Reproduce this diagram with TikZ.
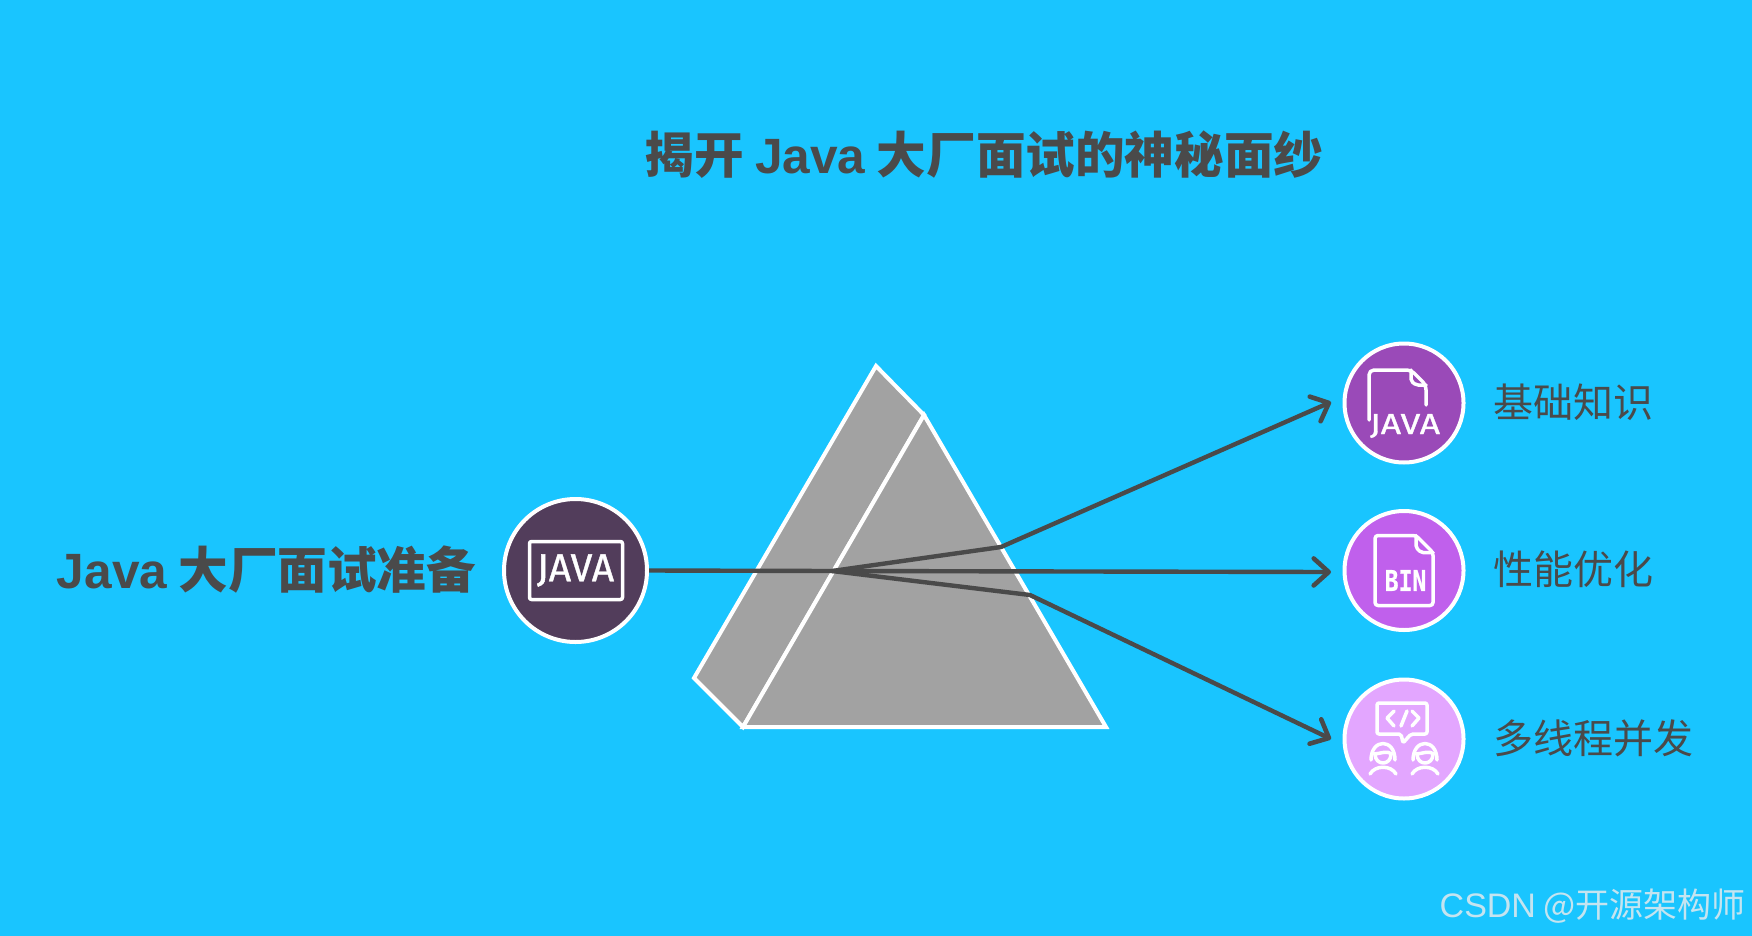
\documentclass[tikz,border=0pt]{standalone}
\usepackage{fontspec}
\setmainfont{Liberation Sans}
\newfontfamily\cjk{Noto Sans CJK SC}
\newfontfamily\icofont[FakeBold=1]{Fira Sans}
\newfontfamily\binfont[FakeBold=0.6]{DejaVu Sans Mono}
\usetikzlibrary{arrows.meta}
\definecolor{bgc}{HTML}{19C5FF}
\definecolor{prismc}{HTML}{A2A2A2}
\definecolor{inkc}{HTML}{4A4A4A}
\definecolor{javac}{HTML}{523D5B}
\definecolor{purpa}{HTML}{9A4AB8}
\definecolor{purpb}{HTML}{C060EC}
\definecolor{purpc}{HTML}{E3A6FF}
\definecolor{markc}{HTML}{C4E4F0}
\tikzset{
  x=1pt,y=-1pt,
  badge/.style={circle,draw=white,line width=4pt,inner sep=0pt,minimum size=#1},
  facet/.style={fill=prismc,draw=white,line width=4pt,line join=miter},
  ray/.style={draw=inkc,line width=4.4pt,line join=round},
  rayhead/.style={ray,-{Straight Barb[length=15pt,width=27pt,line width=4.6pt,round]}},
  ico/.style={draw=white,line width=3.5pt,line cap=round,line join=round,rounded corners=2pt},
  title/.style={text=inkc,font=\fontsize{49.6}{56}\selectfont\bfseries\cjk,inner sep=0pt},
  side/.style={text=inkc,font=\fontsize{40}{46}\selectfont\cjk,inner sep=0pt,anchor=west},
}
\begin{document}
\begin{tikzpicture}
\useasboundingbox[fill=bgc] (0,0) rectangle (1752,936);
% prism
\draw[facet] (876,366) -- (924,415) -- (743,727) -- (694,678) -- cycle;
\draw[facet] (924,415) -- (1106,727) -- (743,727) -- cycle;
% nodes
\node[badge=143pt,fill=javac] (java) at (575.5,570.5) {};
\node[badge=119pt,fill=purpa] (basic) at (1404,403) {};
\node[badge=119pt,fill=purpb] (perf) at (1404,570.5) {};
\node[badge=119pt,fill=purpc] (multi) at (1404,739) {};
% connectors
\coordinate (focus) at (832,571);
\coordinate (bendup) at (1001,547);
\coordinate (benddown) at (1030,595);
\coordinate (tipa) at (1331,402);
\coordinate (tipb) at (1331,572);
\coordinate (tipc) at (1331,739);
\draw[ray] (java.east) -- (focus);
\draw[rayhead] (focus) -- (bendup) -- (tipa);
\draw[rayhead] (focus) -- (tipb);
\draw[rayhead] (focus) -- (benddown) -- (tipc);
% icon: java card
\begin{scope}[shift={(575.5,570.5)}]
\draw[ico] (-46,-29) rectangle (47,29);
\node[text=white,font=\fontsize{39}{40}\selectfont\icofont,inner sep=0pt] (javaword) at (0,0) {JAVA};
\end{scope}
% icon: java file
\begin{scope}[shift={(1404,403)}]
\draw[ico,rounded corners=5pt] (-35,17) -- (-35,-33) -- (7,-33) -- (22,-18) -- (22,2);
\draw[ico] (7,-33) -- (7,-22) -- (12,-18) -- (22,-18);
\node[text=white,font=\fontsize{29}{30}\selectfont\icofont,inner sep=0pt] (fileword) at (1,23) {\scalebox{1.22}[1]{JAVA}};
\end{scope}
% icon: bin file
\begin{scope}[shift={(1404,570.5)}]
\draw[ico,rounded corners=3pt] (-29,-35) -- (12,-35) -- (29,-18) -- (29,35) -- (-29,35) -- cycle;
\draw[ico] (12,-35) -- (12,-23) -- (17,-18) -- (29,-18);
\node[text=white,font=\fontsize{23}{25}\selectfont\bfseries\binfont,inner sep=0pt] (binword) at (1.5,10) {\scalebox{1}[1.25]{BIN}};
\end{scope}
% icon: pair with code bubble
\begin{scope}[shift={(1404,739)}]
\draw[ico] (-27,-36) -- (23,-36) -- (23,-5) -- (7,-5) -- (-1,4) -- (-3,-5) -- (-27,-5) -- cycle;
\draw[ico,rounded corners=0pt] (-10,-28) -- (-17,-21) -- (-10,-13);
\draw[ico,rounded corners=0pt] (3,-28) -- (-3,-13);
\draw[ico,rounded corners=0pt] (8,-28) -- (15,-21) -- (8,-13);
\foreach \px in {-21,21}{
  \begin{scope}[xshift=\px pt]
  \draw[ico,rounded corners=0pt] (-12,21) .. controls (-12,-1) and (12,-1) .. (12,21);
  \draw[ico,rounded corners=0pt] (-9,15) .. controls (-4,15) and (4,11) .. (9,15);
  \draw[ico,rounded corners=0pt] (-8,15) .. controls (-8,27) and (8,27) .. (8,15);
  \draw[ico,rounded corners=0pt] (-13,35) .. controls (-8,26) and (8,26) .. (13,35);
  \end{scope}
}
\end{scope}
% texts
\node[title] (heading) at (984,155) {揭开 {\fontspec{Liberation Sans}Java} 大厂面试的神秘面纱};
\node[title] (source) at (266.5,570) {{\fontspec{Liberation Sans}Java} 大厂面试准备};
\node[side] (basiclabel) at (1493,402) {基础知识};
\node[side] (perflabel) at (1493,569) {性能优化};
\node[side] (multilabel) at (1493,738) {多线程并发};
\node[text=markc,font=\fontsize{34}{40}\selectfont\cjk,inner sep=0pt,anchor=east] (mark) at (1746,906) {{\fontspec{Liberation Sans}CSDN} @开源架构师};
\end{tikzpicture}
\end{document}
